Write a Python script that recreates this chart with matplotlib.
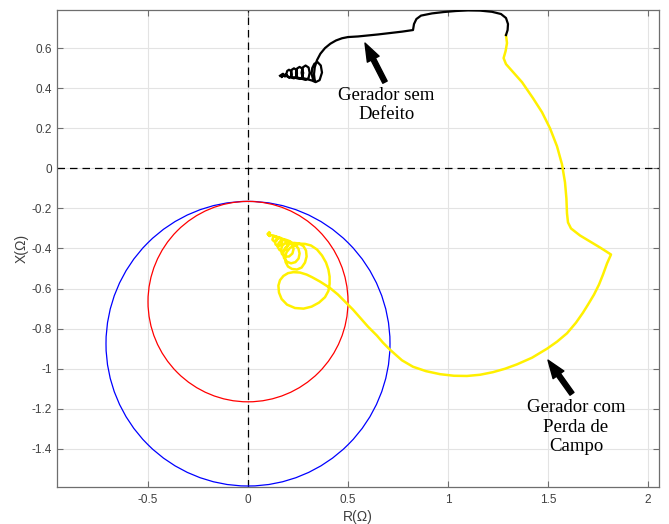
import numpy as np
import matplotlib
matplotlib.use('Agg')
import matplotlib.pyplot as plt
from matplotlib.patches import Circle

#------------------------datos------------------------
# trayectoria generador sin defecto (negro)
R_sem = [0.160, 0.172, 0.168, 0.180, 0.175, 0.185, 0.190,
         0.205, 0.214, 0.218, 0.214, 0.205, 0.196, 0.192, 0.196,
         0.230, 0.241, 0.245, 0.241, 0.230, 0.219, 0.215, 0.219,
         0.258, 0.271, 0.276, 0.271, 0.258, 0.245, 0.240, 0.245,
         0.288, 0.303, 0.308, 0.303, 0.288, 0.273, 0.268, 0.273,
         0.320, 0.338, 0.358, 0.370, 0.364, 0.348, 0.332, 0.321, 0.318, 0.325, 0.334,
         0.330, 0.334, 0.345, 0.362, 0.385, 0.412, 0.440, 0.470, 0.500, 0.550, 0.600,
         0.650, 0.710, 0.770, 0.825, 0.830, 0.842, 0.865, 0.920, 0.980, 1.040,
         1.100, 1.160, 1.220, 1.265, 1.290, 1.300, 1.298, 1.290]
X_sem = [0.462, 0.470, 0.455, 0.465, 0.472, 0.458, 0.468,
         0.452, 0.458, 0.472, 0.486, 0.492, 0.486, 0.472, 0.458,
         0.449, 0.456, 0.474, 0.492, 0.499, 0.492, 0.474, 0.456,
         0.446, 0.454, 0.476, 0.498, 0.506, 0.498, 0.476, 0.454,
         0.441, 0.451, 0.477, 0.503, 0.513, 0.503, 0.477, 0.451,
         0.438, 0.430, 0.440, 0.478, 0.513, 0.530, 0.522, 0.500, 0.470, 0.445, 0.436,
         0.470, 0.505, 0.540, 0.572, 0.600, 0.622, 0.638, 0.649, 0.655, 0.658, 0.663,
         0.668, 0.675, 0.682, 0.690, 0.720, 0.745, 0.762, 0.773, 0.780, 0.785,
         0.788, 0.787, 0.781, 0.770, 0.750, 0.720, 0.690, 0.665]

# trayectoria generador con perdida de campo (amarillo)
R_per = [1.290, 1.295, 1.288, 1.278, 1.290, 1.330, 1.370, 1.425, 1.470, 1.510,
         1.545, 1.570, 1.585, 1.592, 1.595, 1.600, 1.615, 1.660, 1.710, 1.760,
         1.815, 1.795, 1.775, 1.755, 1.730, 1.700, 1.675, 1.640, 1.595, 1.545,
         1.495, 1.420, 1.345, 1.285, 1.225, 1.160, 1.095, 1.030, 0.960, 0.890,
         0.825, 0.770, 0.710, 0.675, 0.645, 0.600, 0.560, 0.525, 0.495, 0.450,
         0.410, 0.360, 0.320, 0.293, 0.260, 0.227, 0.200, 0.177, 0.160, 0.152,
         0.155, 0.168, 0.195, 0.235, 0.278, 0.318, 0.355, 0.385, 0.402, 0.408,
         0.408, 0.402, 0.390, 0.370, 0.345, 0.315, 0.285,
         0.260, 0.235, 0.210, 0.193, 0.185, 0.188, 0.200, 0.220, 0.245, 0.268,
         0.285, 0.293, 0.290, 0.277, 0.255,
         0.230, 0.205, 0.185, 0.176, 0.180, 0.195, 0.215, 0.237, 0.253, 0.258, 0.252, 0.235,
         0.212, 0.190, 0.172, 0.164, 0.170, 0.185, 0.205, 0.222, 0.228, 0.222, 0.205,
         0.185, 0.165, 0.152, 0.149, 0.158, 0.175, 0.190, 0.197, 0.192, 0.178,
         0.160, 0.143, 0.135, 0.138, 0.150, 0.164, 0.171, 0.166, 0.152,
         0.137, 0.125, 0.122, 0.130, 0.142, 0.148, 0.140,
         0.125, 0.112, 0.105, 0.110, 0.100, 0.108, 0.098, 0.105]
X_per = [0.665, 0.625, 0.585, 0.550, 0.520, 0.475, 0.430, 0.350, 0.280, 0.200,
         0.110, 0.020, -0.070, -0.150, -0.225, -0.270, -0.300, -0.335, -0.365, -0.395,
         -0.430, -0.475, -0.530, -0.580, -0.630, -0.680, -0.720, -0.770, -0.823, -0.865,
         -0.900, -0.945, -0.978, -1.000, -1.017, -1.030, -1.036, -1.035, -1.027, -1.012,
         -0.990, -0.958, -0.905, -0.870, -0.835, -0.790, -0.745, -0.705, -0.675, -0.630,
         -0.597, -0.565, -0.543, -0.530, -0.520, -0.518, -0.523, -0.537, -0.558, -0.585,
         -0.620, -0.652, -0.680, -0.697, -0.700, -0.690, -0.670, -0.643, -0.612, -0.577,
         -0.540, -0.505, -0.470, -0.435, -0.405, -0.385, -0.377,
         -0.376, -0.383, -0.397, -0.418, -0.443, -0.468, -0.490, -0.502, -0.505, -0.495,
         -0.470, -0.440, -0.410, -0.388, -0.375,
         -0.372, -0.380, -0.398, -0.422, -0.447, -0.466, -0.474, -0.468, -0.450, -0.425, -0.400, -0.380,
         -0.366, -0.370, -0.385, -0.407, -0.428, -0.440, -0.440, -0.425, -0.402, -0.378, -0.362,
         -0.355, -0.360, -0.375, -0.393, -0.408, -0.412, -0.404, -0.387, -0.367, -0.354,
         -0.346, -0.352, -0.365, -0.380, -0.388, -0.383, -0.368, -0.352, -0.344,
         -0.339, -0.345, -0.356, -0.364, -0.362, -0.350, -0.340,
         -0.335, -0.333, -0.328, -0.322, -0.330, -0.338, -0.327, -0.320]

# circulos del rele de perdida de campo (centro R, centro X, radio)
circ_rojo = (0.0, -0.665, 0.50)
circ_azul = (0.0, -0.875, 0.71)

xticks = [-0.5, 0, 0.5, 1, 1.5, 2]
yticks = [-1.4, -1.2, -1.0, -0.8, -0.6, -0.4, -0.2, 0, 0.2, 0.4, 0.6]

#-----------------------------Set matplotlib----------------
plt.rcParams['font.family'] = 'Liberation Sans'
plt.rcParams['axes.unicode_minus'] = False

fig = plt.figure(figsize=(6.69, 5.24), dpi=100)
ax = fig.add_axes([57/669, 37/524, 602/669, 477/524])

gris = '#6e6e6e'
ax.axhline(0, color='k', ls=(0, (6, 4)), lw=0.9, zorder=2)
ax.axvline(0, color='k', ls=(0, (6, 4)), lw=0.9, zorder=2)

ax.add_patch(Circle(circ_azul[:2], circ_azul[2], fill=False, ec='#0000ff', lw=0.9, zorder=3))
ax.add_patch(Circle(circ_rojo[:2], circ_rojo[2], fill=False, ec='#ff0000', lw=0.9, zorder=3))

ax.plot(R_per, X_per, color='#fff000', lw=1.8, zorder=4, solid_joinstyle='round')
ax.plot(R_sem, X_sem, color='k', lw=1.6, zorder=5, solid_joinstyle='round')

ax.set_xlim(-0.955, 2.055)
ax.set_ylim(-1.59, 0.79)
ax.set_xticks(xticks)
ax.set_yticks(yticks)
ax.set_xticklabels(['%g' % t for t in xticks])
ax.set_yticklabels(['%g' % round(t, 1) for t in yticks])
ax.tick_params(direction='in', length=4, width=0.8, color=gris, labelcolor='#404040',
               labelsize=8.5, top=True, right=True)
ax.tick_params(axis='x', pad=5)
for s in ax.spines.values():
    s.set_color(gris)
    s.set_linewidth(0.9)
ax.grid(True, color='#e3e3e3', lw=0.8, zorder=0)
ax.set_axisbelow(True)

ax.set_xlabel('R(\u03a9)', fontsize=10, color='#404040', labelpad=3)
ax.set_ylabel('X(\u03a9)', fontsize=10, color='#404040', labelpad=2)

# anotaciones
flecha = dict(facecolor='black', edgecolor='black', width=3.5, headwidth=9.5,
              headlength=13, shrink=0)
ax.annotate('', xy=(0.585, 0.625), xytext=(0.685, 0.43), arrowprops=flecha, zorder=6)
ax.annotate('', xy=(1.50, -0.957), xytext=(1.62, -1.125), arrowprops=flecha, zorder=6)
ax.text(0.693, 0.315, 'Gerador sem\nDefeito', family='Liberation Serif', fontsize=13.5,
        ha='center', va='center', multialignment='center', linespacing=1.2, zorder=6)
ax.text(1.64, -1.292, 'Gerador com\nPerda de\nCampo', family='Liberation Serif', fontsize=13.5,
        ha='center', va='center', multialignment='center', linespacing=1.2, zorder=6)

plt.savefig('out.png', dpi=100)
plt.close(fig)
